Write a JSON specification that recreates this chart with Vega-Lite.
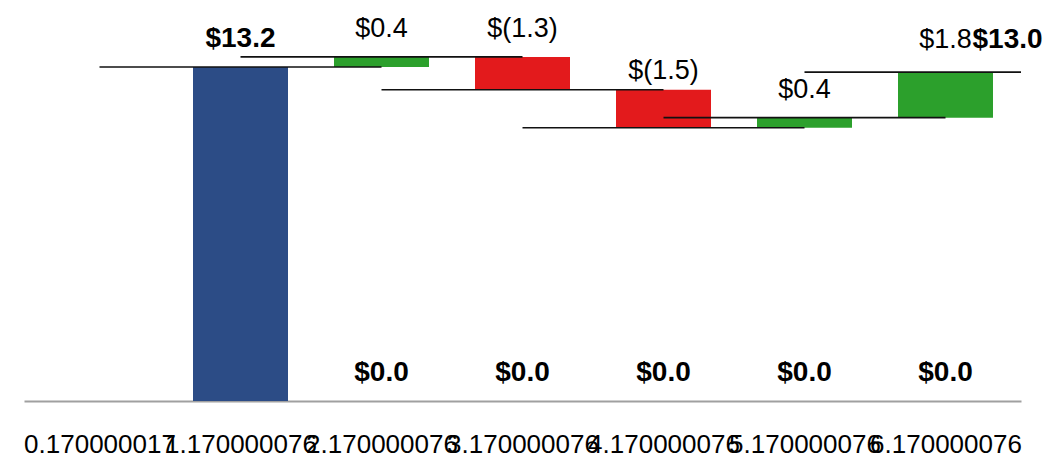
{
  "$schema": "https://vega.github.io/schema/vega-lite/v6.json",
  "width": 997,
  "height": 401,
  "autosize": {"type": "none"},
  "padding": {"left": 24, "top": 0, "right": 31, "bottom": 52},
  "config": {"view": {"stroke": null}, "font": "Liberation Sans"},
  "datasets": {
    "steps": [
      {"x": 1.170000076, "start": 0, "end": 13.2, "kind": "total", "label": "$13.2", "lineFrom": 0.170000017, "lineTo": 2.170000076},
      {"x": 2.170000076, "start": 13.2, "end": 13.6, "kind": "up", "label": "$0.4", "lineFrom": 1.170000076, "lineTo": 3.170000076},
      {"x": 3.170000076, "start": 13.6, "end": 12.3, "kind": "down", "label": "$(1.3)", "lineFrom": 2.170000076, "lineTo": 4.170000076},
      {"x": 4.170000076, "start": 12.3, "end": 10.8, "kind": "down", "label": "$(1.5)", "lineFrom": 3.170000076, "lineTo": 5.170000076},
      {"x": 5.170000076, "start": 10.8, "end": 11.2, "kind": "up", "label": "$0.4", "lineFrom": 4.170000076, "lineTo": 6.170000076},
      {"x": 6.170000076, "start": 11.2, "end": 13.0, "kind": "up", "label": "$1.8", "lineFrom": 5.170000076, "lineTo": 7.170000076}
    ],
    "zeros": [
      {"x": 2.170000076, "value": 0, "label": "$0.0"},
      {"x": 3.170000076, "value": 0, "label": "$0.0"},
      {"x": 4.170000076, "value": 0, "label": "$0.0"},
      {"x": 5.170000076, "value": 0, "label": "$0.0"},
      {"x": 6.170000076, "value": 0, "label": "$0.0"}
    ],
    "total": [
      {"x": 6.170000076, "value": 13.0, "label": "$13.0"}
    ]
  },
  "layer": [
    {
      "data": {"name": "steps"},
      "mark": {"type": "bar", "size": 95},
      "encoding": {
        "x": {
          "field": "x", "type": "quantitative",
          "scale": {"domain": [-0.33, 6.67], "nice": false, "zero": false},
          "axis": {
            "values": [0.170000017, 1.170000076, 2.170000076, 3.170000076, 4.170000076, 5.170000076, 6.170000076],
            "format": ".9f",
            "title": null,
            "grid": false,
            "ticks": false,
            "domainColor": "#a0a0a0",
            "domainWidth": 2,
            "labelFontSize": 26,
            "labelFont": "Liberation Sans",
            "labelColor": "#000000",
            "labelPadding": 30,
            "labelOverlap": false,
            "labelFlush": false,
            "labelBound": false
          }
        },
        "y": {
          "field": "start", "type": "quantitative",
          "scale": {"domain": [0, 15.85], "nice": false},
          "axis": null
        },
        "y2": {"field": "end"},
        "color": {
          "field": "kind", "type": "nominal",
          "scale": {"domain": ["total", "up", "down"], "range": ["#2c4c86", "#2ca02c", "#e31a1c"]},
          "legend": null
        }
      }
    },
    {
      "data": {"name": "steps"},
      "mark": {"type": "rule", "color": "#111111", "strokeWidth": 1.6, "clip": true},
      "encoding": {
        "x": {"field": "lineFrom", "type": "quantitative"},
        "x2": {"field": "lineTo"},
        "y": {"field": "end", "type": "quantitative"}
      }
    },
    {
      "data": {"name": "steps"},
      "transform": [{"filter": "datum.kind == 'total'"}],
      "mark": {"type": "text", "fontSize": 28, "fontWeight": "bold", "baseline": "alphabetic", "dy": -20, "color": "#000000"},
      "encoding": {
        "x": {"field": "x", "type": "quantitative"},
        "y": {"field": "end", "type": "quantitative"},
        "text": {"field": "label"}
      }
    },
    {
      "data": {"name": "steps"},
      "transform": [{"filter": "datum.kind == 'up' && datum.label != '$1.8'"}],
      "mark": {"type": "text", "fontSize": 27, "baseline": "alphabetic", "dy": -20, "color": "#000000"},
      "encoding": {
        "x": {"field": "x", "type": "quantitative"},
        "y": {"field": "end", "type": "quantitative"},
        "text": {"field": "label"}
      }
    },
    {
      "data": {"name": "steps"},
      "transform": [{"filter": "datum.label == '$1.8'"}],
      "mark": {"type": "text", "fontSize": 27, "baseline": "alphabetic", "dy": -24, "color": "#000000"},
      "encoding": {
        "x": {"field": "x", "type": "quantitative"},
        "y": {"field": "end", "type": "quantitative"},
        "text": {"field": "label"}
      }
    },
    {
      "data": {"name": "steps"},
      "transform": [{"filter": "datum.label == '$(1.3)'"}],
      "mark": {"type": "text", "fontSize": 27, "baseline": "alphabetic", "dy": -20, "color": "#000000"},
      "encoding": {
        "x": {"field": "x", "type": "quantitative"},
        "y": {"field": "start", "type": "quantitative"},
        "text": {"field": "label"}
      }
    },
    {
      "data": {"name": "steps"},
      "transform": [{"filter": "datum.label == '$(1.5)'"}],
      "mark": {"type": "text", "fontSize": 27, "baseline": "alphabetic", "dy": -11, "color": "#000000"},
      "encoding": {
        "x": {"field": "x", "type": "quantitative"},
        "y": {"field": "start", "type": "quantitative"},
        "text": {"field": "label"}
      }
    },
    {
      "data": {"name": "zeros"},
      "mark": {"type": "text", "fontSize": 28, "fontWeight": "bold", "baseline": "alphabetic", "dy": -20, "color": "#000000"},
      "encoding": {
        "x": {"field": "x", "type": "quantitative"},
        "y": {"field": "value", "type": "quantitative"},
        "text": {"field": "label"}
      }
    },
    {
      "data": {"name": "total"},
      "mark": {"type": "text", "fontSize": 28, "fontWeight": "bold", "baseline": "alphabetic", "align": "left", "dx": 27, "dy": -24, "color": "#000000"},
      "encoding": {
        "x": {"field": "x", "type": "quantitative"},
        "y": {"field": "value", "type": "quantitative"},
        "text": {"field": "label"}
      }
    }
  ]
}
